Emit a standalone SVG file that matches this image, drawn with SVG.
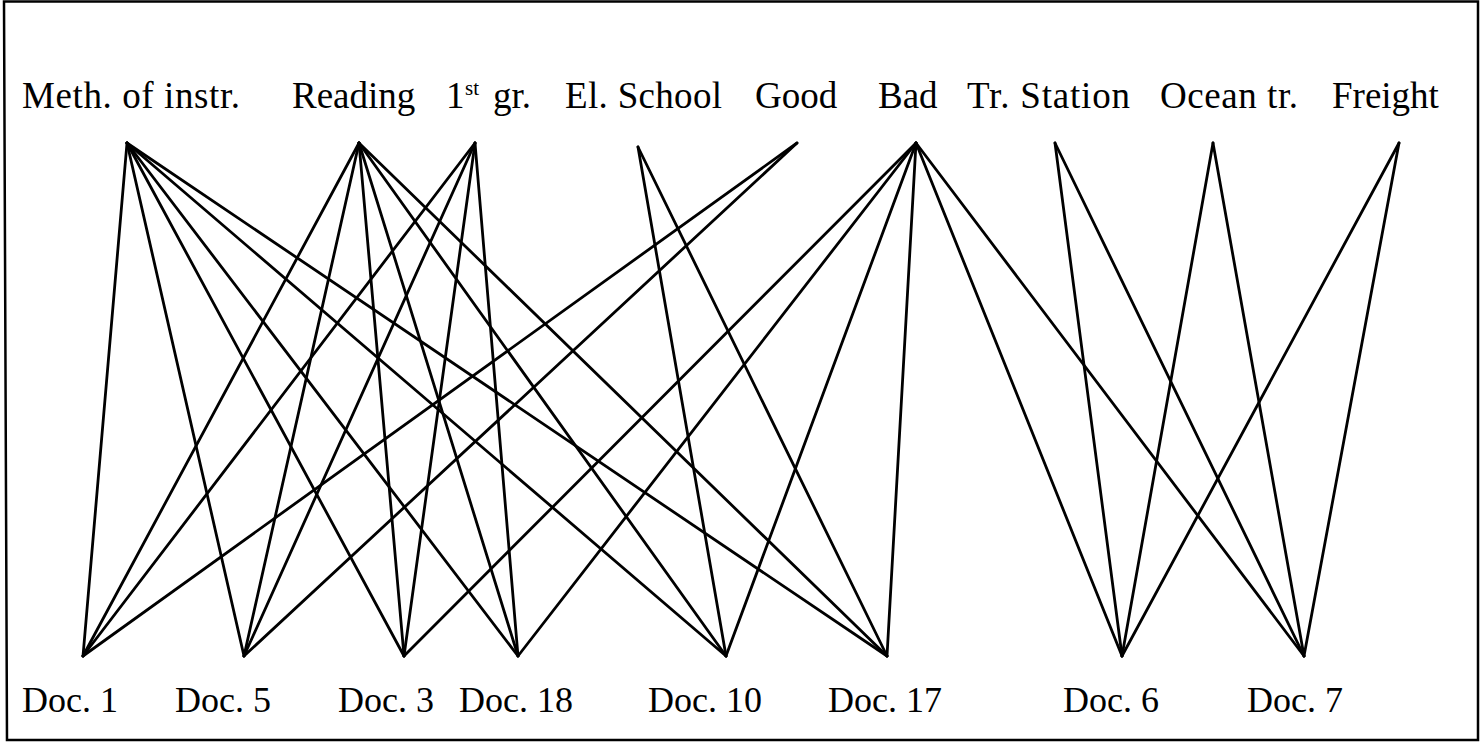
<svg xmlns="http://www.w3.org/2000/svg" width="1481" height="742" viewBox="0 0 1481 742">
  <style>
    text { font-family: "Liberation Serif", Tinos, "Times New Roman", "DejaVu Serif", serif; fill: #000; }
    .term { font-size: 37px; }
    .doc { font-size: 36px; }
    .sup { font-size: 21px; }
    .edge { stroke: #000; stroke-width: 2.8; stroke-linecap: round; fill: none; }
    .frame { stroke: #000; stroke-width: 2.5; fill: none; }
  </style>
  <rect width="1481" height="742" fill="#fff"/>
  <path class="frame" d="M4 1.5 H1478 V740 H7 Z"/>

  <!-- term -> document links -->
  <g id="connectors">
    <!-- Meth. of instr. -->
    <line class="edge" x1="127" y1="143" x2="83" y2="656"/>
    <line class="edge" x1="127" y1="143" x2="244" y2="656"/>
    <line class="edge" x1="127" y1="143" x2="404" y2="656"/>
    <line class="edge" x1="127" y1="143" x2="518" y2="656"/>
    <line class="edge" x1="127" y1="143" x2="726" y2="656"/>
    <line class="edge" x1="127" y1="143" x2="887" y2="656"/>
    <!-- Reading -->
    <line class="edge" x1="359" y1="143" x2="83" y2="656"/>
    <line class="edge" x1="359" y1="143" x2="244" y2="656"/>
    <line class="edge" x1="359" y1="143" x2="404" y2="656"/>
    <line class="edge" x1="359" y1="143" x2="518" y2="656"/>
    <line class="edge" x1="359" y1="143" x2="726" y2="656"/>
    <line class="edge" x1="359" y1="143" x2="887" y2="656"/>
    <!-- 1st gr. -->
    <line class="edge" x1="475" y1="143" x2="83" y2="656"/>
    <line class="edge" x1="475" y1="143" x2="244" y2="656"/>
    <line class="edge" x1="475" y1="143" x2="404" y2="656"/>
    <line class="edge" x1="475" y1="143" x2="518" y2="656"/>
    <!-- El. School -->
    <line class="edge" x1="638" y1="147" x2="726" y2="656"/>
    <line class="edge" x1="638" y1="147" x2="887" y2="656"/>
    <!-- Good -->
    <line class="edge" x1="797" y1="143" x2="83" y2="656"/>
    <line class="edge" x1="797" y1="143" x2="244" y2="656"/>
    <!-- Bad -->
    <line class="edge" x1="916" y1="143" x2="404" y2="656"/>
    <line class="edge" x1="916" y1="143" x2="518" y2="656"/>
    <line class="edge" x1="916" y1="143" x2="726" y2="656"/>
    <line class="edge" x1="916" y1="143" x2="887" y2="656"/>
    <line class="edge" x1="916" y1="143" x2="1122" y2="656"/>
    <line class="edge" x1="916" y1="143" x2="1304" y2="656"/>
    <!-- Tr. Station -->
    <line class="edge" x1="1055" y1="143" x2="1122" y2="656"/>
    <line class="edge" x1="1055" y1="143" x2="1304" y2="656"/>
    <!-- Ocean tr. -->
    <line class="edge" x1="1213" y1="143" x2="1122" y2="656"/>
    <line class="edge" x1="1213" y1="143" x2="1304" y2="656"/>
    <!-- Freight -->
    <line class="edge" x1="1399" y1="143" x2="1122" y2="656"/>
    <line class="edge" x1="1399" y1="143" x2="1304" y2="656"/>
  </g>

  <!-- terms (top row) -->
  <g id="term-meth"><text class="term" x="22" y="108" textLength="218" lengthAdjust="spacing">Meth. of instr.</text></g>
  <g id="term-reading"><text class="term" x="292" y="108">Reading</text></g>
  <g id="term-first-grade"><text class="term" x="446" y="108">1</text><text class="sup" x="465" y="95">st</text><text class="term" x="493" y="108">gr.</text></g>
  <g id="term-el-school"><text class="term" x="565" y="108" textLength="157" lengthAdjust="spacing">El. School</text></g>
  <g id="term-good"><text class="term" x="755" y="108">Good</text></g>
  <g id="term-bad"><text class="term" x="878" y="108">Bad</text></g>
  <g id="term-tr-station"><text class="term" x="967" y="108" textLength="163" lengthAdjust="spacing">Tr. Station</text></g>
  <g id="term-ocean"><text class="term" x="1160" y="108" textLength="138" lengthAdjust="spacing">Ocean tr.</text></g>
  <g id="term-freight"><text class="term" x="1332" y="108">Freight</text></g>

  <!-- documents (bottom row) -->
  <g id="doc-1"><text class="doc" x="22" y="712">Doc. 1</text></g>
  <g id="doc-5"><text class="doc" x="175" y="712">Doc. 5</text></g>
  <g id="doc-3"><text class="doc" x="338" y="712">Doc. 3</text></g>
  <g id="doc-18"><text class="doc" x="459" y="712">Doc. 18</text></g>
  <g id="doc-10"><text class="doc" x="648" y="712">Doc. 10</text></g>
  <g id="doc-17"><text class="doc" x="828" y="712">Doc. 17</text></g>
  <g id="doc-6"><text class="doc" x="1063" y="712">Doc. 6</text></g>
  <g id="doc-7"><text class="doc" x="1247" y="712">Doc. 7</text></g>
</svg>
